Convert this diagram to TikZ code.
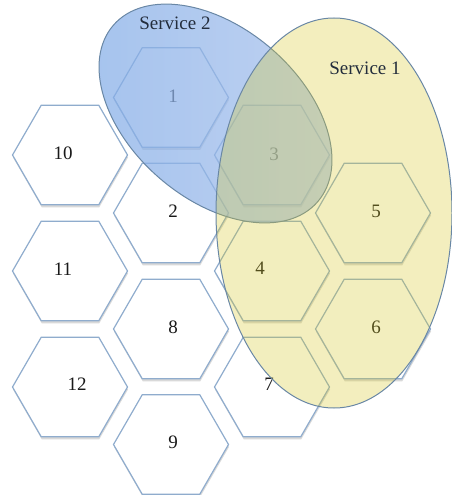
\documentclass[tikz,border=0pt]{standalone}
\usepackage{fontspec}
\setmainfont{Liberation Serif}
\usetikzlibrary{shapes.geometric,shadows}
\definecolor{hexline}{RGB}{143,172,205}
\definecolor{ellline}{RGB}{105,135,165}
\definecolor{yel}{RGB}{215,200,40}
\definecolor{bluL}{RGB}{130,172,231}
\definecolor{bluR}{RGB}{168,193,236}
\definecolor{numtext}{RGB}{25,25,25}
\definecolor{svctext}{RGB}{35,45,60}
\begin{document}
\begin{tikzpicture}[x=1pt,y=-1pt,
  hexcell/.style={regular polygon, regular polygon sides=6, minimum size=115pt,
    inner sep=0pt, draw=hexline, line width=1.2pt, fill=white,
    drop shadow={shadow xshift=0.5pt, shadow yshift=-2.5pt, opacity=0.25, fill=black!60}},
  num/.style={font=\fontsize{19}{22}\selectfont, text=numtext, inner sep=0pt},
  svc/.style={font=\fontsize{19}{22}\selectfont, text=svctext, inner sep=0pt},
  area/.style={ellipse, inner sep=0pt, draw=ellline, line width=1pt}
]
\useasboundingbox (0,0) rectangle (452,495);
% hexagons
\node[hexcell] (h10) at (70,155) {};
\node[hexcell] (h11) at (70,271) {};
\node[hexcell] (h12) at (70,387) {};
\node[hexcell] (h1) at (171,97.5) {};
\node[hexcell] (h2) at (171,213) {};
\node[hexcell] (h8) at (171,329) {};
\node[hexcell] (h9) at (171,444.5) {};
\node[hexcell] (h3) at (272,155) {};
\node[hexcell] (h4) at (272,271) {};
\node[hexcell] (h7) at (272,387) {};
\node[hexcell] (h5) at (373,213) {};
\node[hexcell] (h6) at (373,329) {};
% numbers
\node[num] (t1) at (173,96) {1};
\node[num] (t10) at (63,153) {10};
\node[num] (t2) at (173,211) {2};
\node[num] (t3) at (274,154) {3};
\node[num] (t5) at (376,211) {5};
\node[num] (t11) at (63,269) {11};
\node[num] (t4) at (260,268) {4};
\node[num] (t8) at (173,327) {8};
\node[num] (t6) at (376,327) {6};
\node[num] (t12) at (77,384) {12};
\node[num] (t7) at (269,384) {7};
\node[num] (t9) at (173,442) {9};
% service areas
\node[area, left color=bluL, right color=bluR, fill opacity=0.72,
      minimum width=270pt, minimum height=171pt, rotate=-40.8] (s2) at (215.5,113.5) {};
\node[area, fill=yel, fill opacity=0.3,
      minimum width=236pt, minimum height=390pt] (s1) at (334,213) {};
\node[svc] (l2) at (175,23) {Service 2};
\node[svc] (l1) at (365,68) {Service 1};
\end{tikzpicture}
\end{document}
